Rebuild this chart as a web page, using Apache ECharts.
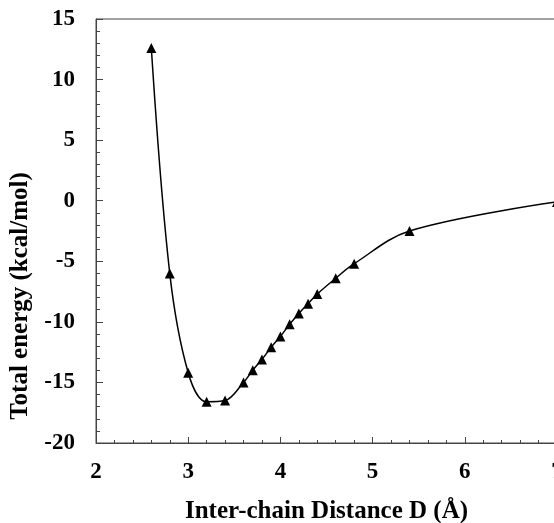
<!DOCTYPE html>
<html>
<head>
<meta charset="utf-8">
<script src="https://cdn.jsdelivr.net/npm/echarts@6/dist/echarts.min.js"></script>
<style>html,body{margin:0;padding:0;background:#fff}#c{width:554px;height:523px}</style>
</head>
<body>
<div id="c"></div>
<script>
const distances = [2.6, 2.8, 3.0, 3.2, 3.4, 3.6, 3.7, 3.8, 3.9, 4.0, 4.1, 4.2, 4.3, 4.4, 4.6, 4.8, 5.4, 7.0];
const energies = [12.6, -6.0, -14.2, -16.6, -16.5, -15.0, -14.0, -13.1, -12.1, -11.2, -10.2, -9.3, -8.5, -7.7, -6.4, -5.2, -2.5, -0.1];
const xTitle = 'Inter-chain Distance D (Å)';
const yTitle = 'Total energy (kcal/mol)';

const font = 'Liberation Serif';
const axisColor = '#444';
const chart = echarts.init(document.getElementById('c'));
chart.setOption({
  animation: false,
  grid: { left: 96, top: 19, width: 461, height: 424, show: true, borderColor: axisColor, borderWidth: 1,
          containLabel: false, outerBoundsMode: 'none' },
  xAxis: {
    type: 'value', min: 2, max: 7, interval: 1,
    name: xTitle, nameLocation: 'middle', nameGap: 56,
    nameTextStyle: { fontFamily: font, fontWeight: 'bold', fontSize: 25, color: '#000' },
    axisLine: { show: true, onZero: false, lineStyle: { color: axisColor, width: 1 } },
    axisTick: { show: true, inside: true, length: 6, lineStyle: { color: axisColor } },
    minorTick: { show: true, splitNumber: 5, length: 3, lineStyle: { color: axisColor } },
    splitLine: { show: false },
    axisLabel: { fontFamily: font, fontWeight: 'bold', fontSize: 23, color: '#000', margin: 18 }
  },
  yAxis: {
    type: 'value', min: -20, max: 15, interval: 5,
    name: yTitle, nameLocation: 'middle', nameGap: 55, nameRotate: 90,
    nameTextStyle: { fontFamily: font, fontWeight: 'bold', fontSize: 25, color: '#000', padding: [0, 130, 0, 0] },
    axisLine: { show: true, onZero: false, lineStyle: { color: axisColor, width: 1 } },
    axisTick: { show: true, inside: true, length: 7, lineStyle: { color: axisColor } },
    minorTick: { show: true, splitNumber: 5, length: 4, lineStyle: { color: axisColor } },
    splitLine: { show: false },
    axisLabel: { fontFamily: font, fontWeight: 'bold', fontSize: 23, color: '#000', margin: 21 }
  },
  series: [{
    type: 'line',
    data: distances.map((d, i) => [d, energies[i]]),
    smooth: 0.35,
    symbol: 'triangle', symbolSize: 10,
    itemStyle: { color: '#000' },
    lineStyle: { color: '#000', width: 1.5 },
    clip: false
  }]
});
</script>
</body>
</html>
